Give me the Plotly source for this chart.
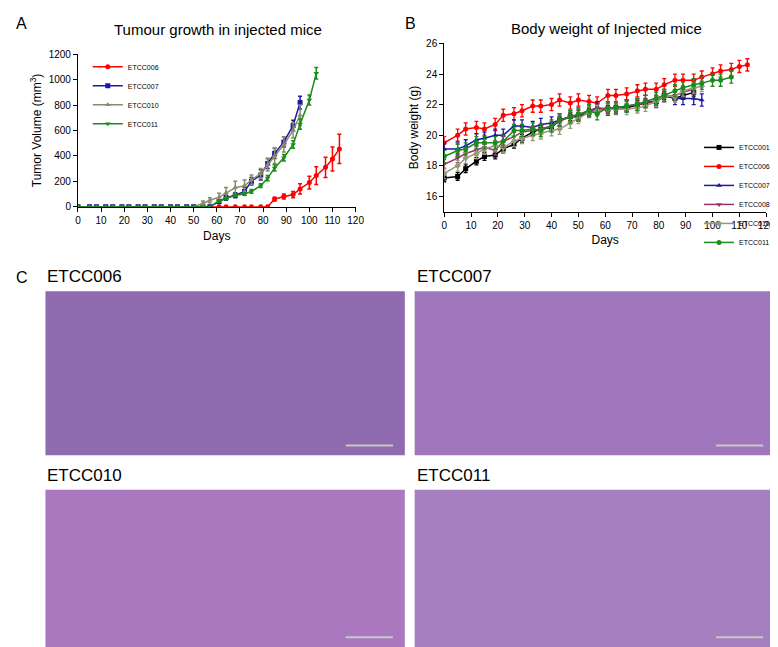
import plotly.graph_objects as go

# Panel A: tumour volume (mm3)
days_a = [0, 5, 8, 12, 15, 19, 22, 26, 29, 33, 36, 40, 43, 47, 50, 54, 57, 61, 64,
          68, 72, 75, 79, 82, 85, 89, 93, 96, 100, 103, 107, 110, 113]
vol_006 = [0] * 24 + [60, 80, 95, 140, 190, 245, 310, 375, 455]
err_006 = [0] * 24 + [15, 20, 25, 40, 50, 70, 80, 95, 115]
vol_007 = [0] * 17 + [40, 70, 90, 120, 200, 250, 340, 420, 510, 640, 820]
err_007 = [0] * 17 + [15, 20, 20, 30, 30, 40, 40, 40, 40, 40, 50]
vol_010 = [0] * 15 + [25, 50, 75, 110, 150, 165, 210, 260, 330, 400, 490, 600, 720]
err_010 = [0] * 15 + [20, 20, 30, 40, 50, 45, 40, 40, 50, 60, 60, 60, 80]
vol_011 = [0] * 17 + [45, 65, 90, 100, 120, 165, 225, 305, 385, 490, 650, 840, 1050]
err_011 = [0] * 17 + [10, 10, 10, 10, 15, 15, 20, 25, 25, 30, 40, 40, 45]

# Panel B: body weight (g)
days_b = [0, 5, 8, 12, 15, 19, 22, 26, 29, 33, 36, 40, 43, 47, 50, 54, 57, 61, 64,
          68, 72, 75, 79, 82, 86, 89, 93, 96, 100, 103, 107, 110, 113]
bw_001 = [17.2, 17.3, 17.8, 18.3, 18.6, 18.7, 19.1, 19.4, 19.8, 20.2, 20.4, 20.5, 21.0, 21.2,
          21.2, 21.5, 21.6, 21.7, 21.8, 21.8, 22.0, 22.1, 22.2, 22.6, 22.4, 22.6, 22.8]
bw_006 = [19.5, 20.0, 20.4, 20.5, 20.4, 20.7, 21.3, 21.4, 21.6, 21.9, 21.9, 22.0, 22.3, 22.1,
          22.3, 22.2, 22.1, 22.6, 22.6, 22.7, 22.9, 23.0, 23.0, 23.3, 23.6, 23.6, 23.6, 23.8,
          24.0, 24.2, 24.3, 24.5, 24.6]
bw_007 = [19.1, 19.1, 19.3, 19.7, 19.8, 20.0, 20.0, 20.6, 20.6, 20.5, 20.7, 20.8, 21.0, 21.2,
          21.3, 21.6, 21.8, 21.7, 21.8, 21.9, 22.0, 22.2, 22.2, 22.6, 22.4, 22.4, 22.4, 22.3]
bw_008 = [18.1, 18.5, 18.8, 19.0, 19.2, 19.0, 19.6, 19.9, 20.2, 20.3, 20.4, 20.6, 20.9, 21.2,
          21.3, 21.6, 21.7, 21.8, 21.8, 21.9, 22.0, 22.1, 22.2, 22.5, 22.6, 22.8, 23.0]
bw_010 = [17.5, 18.0, 18.5, 18.8, 19.1, 19.3, 19.2, 19.6, 19.8, 20.0, 20.1, 20.3, 20.4, 20.8,
          21.1, 21.5, 21.6, 21.7, 21.7, 21.7, 21.8, 21.9, 22.2, 22.6, 22.5, 22.9, 23.1, 23.2]
bw_011 = [18.6, 19.0, 19.1, 19.5, 19.5, 19.5, 19.6, 20.3, 20.3, 20.4, 20.3, 20.6, 21.0, 21.2,
          21.4, 21.6, 21.4, 21.8, 21.8, 21.9, 22.0, 22.2, 22.4, 22.6, 22.9, 23.1, 23.3, 23.4,
          23.6, 23.6, 23.8]
bw_err = {"ETCC001": 0.25, "ETCC006": 0.4, "ETCC007": 0.4, "ETCC008": 0.3, "ETCC010": 0.35, "ETCC011": 0.4}

histo_labels = ["ETCC006", "ETCC007", "ETCC010", "ETCC011"]
histo_colors = ["#8f6aae", "#a077bd", "#a978bf", "#a67fc0"]

FONT = "Liberation Sans, Arial"
W, H = 778, 647

fig = go.Figure()

series_a = [
    ("ETCC006", vol_006, err_006, "#ff0000", "circle"),
    ("ETCC007", vol_007, err_007, "#1a1aa6", "square"),
    ("ETCC010", vol_010, err_010, "#8b8a6a", "triangle-up"),
    ("ETCC011", vol_011, err_011, "#1a8c1a", "triangle-down"),
]
for name, y, e, c, sym in series_a:
    fig.add_trace(go.Scatter(
        x=days_a[:len(y)], y=y, name=name, mode="lines+markers",
        line=dict(color=c, width=1.5), marker=dict(color=c, symbol=sym, size=5),
        error_y=dict(type="data", array=e, color=c, thickness=1.5, width=2),
        xaxis="x", yaxis="y", legend="legend"))

series_b = [
    ("ETCC001", bw_001, "#000000", "square"),
    ("ETCC006", bw_006, "#ff0000", "circle"),
    ("ETCC007", bw_007, "#1a1aa6", "triangle-up"),
    ("ETCC008", bw_008, "#993366", "triangle-down"),
    ("ETCC010", bw_010, "#999977", "diamond"),
    ("ETCC011", bw_011, "#1a8c1a", "circle"),
]
for name, y, c, sym in series_b:
    fig.add_trace(go.Scatter(
        x=days_b[:len(y)], y=y, name=name, mode="lines+markers",
        line=dict(color=c, width=1.5), marker=dict(color=c, symbol=sym, size=5),
        error_y=dict(type="constant", value=bw_err[name], color=c, thickness=1.3, width=2),
        xaxis="x2", yaxis="y2", legend="legend2"))

axis_common = dict(showgrid=False, zeroline=False, showline=True, linecolor="black",
                   ticks="outside", ticklen=4, tickcolor="black",
                   tickfont=dict(size=10, family=FONT, color="black"))

# histology tiles
tiles = [(35, 283, 400, 450), (410, 283, 776, 450), (35, 485, 400, 645), (410, 485, 776, 645)]
shapes = []
annotations = []
for (x0, y0, x1, y1), lab, col in zip(tiles, histo_labels, histo_colors):
    shapes.append(dict(type="rect", xref="paper", yref="paper",
                       x0=x0 / W, x1=x1 / W, y0=1 - y1 / H, y1=1 - y0 / H,
                       fillcolor=col, line=dict(width=0), layer="below"))
    shapes.append(dict(type="line", xref="paper", yref="paper",
                       x0=(x1 - 60) / W, x1=(x1 - 12) / W, y0=1 - (y1 - 10) / H, y1=1 - (y1 - 10) / H,
                       line=dict(color="#c8c8c8", width=2)))
    annotations.append(dict(text=lab, x=x0 / W, y=1 - (y0 - 3) / H, xref="paper", yref="paper",
                            xanchor="left", yanchor="bottom", showarrow=False,
                            font=dict(size=17, family=FONT, color="black")))

for t, x, y in [("A", 3, 0), ("B", 398, 0), ("C", 3, 258)]:
    annotations.append(dict(text=t, x=x / W, y=1 - y / H, xref="paper", yref="paper",
                            xanchor="left", yanchor="top", showarrow=False,
                            font=dict(size=16, family=FONT, color="black")))
annotations.append(dict(text="Tumour growth in injected mice", x=210 / W, y=1 - 6 / H,
                        xref="paper", yref="paper", xanchor="center", yanchor="top", showarrow=False,
                        font=dict(size=15, family=FONT, color="black")))
annotations.append(dict(text="Body weight of Injected mice", x=605 / W, y=1 - 5 / H,
                        xref="paper", yref="paper", xanchor="center", yanchor="top", showarrow=False,
                        font=dict(size=15, family=FONT, color="black")))

fig.update_layout(
    width=W, height=H, margin=dict(l=0, r=0, t=0, b=0),
    paper_bgcolor="white", plot_bgcolor="white",
    font=dict(family=FONT, color="black"),
    xaxis=dict(axis_common, domain=[68 / W, 350 / W], range=[0, 120], dtick=10,
               title=dict(text="Days", font=dict(size=12), standoff=6), anchor="y"),
    yaxis=dict(axis_common, domain=[1 - 197 / H, 1 - 42 / H], range=[0, 1200], dtick=200,
               title=dict(text="Tumor Volume (mm<sup>3</sup>)", font=dict(size=12), standoff=4), anchor="x"),
    xaxis2=dict(axis_common, domain=[440 / W, 767 / W], range=[0, 120], dtick=10,
                title=dict(text="Days", font=dict(size=12), standoff=6), anchor="y2"),
    yaxis2=dict(axis_common, domain=[1 - 202 / H, 1 - 31 / H], range=[15, 26], tickvals=[16, 18, 20, 22, 24, 26],
                title=dict(text="Body weight (g)", font=dict(size=12), standoff=4), anchor="x2"),
    legend=dict(x=78 / W, y=1 - 40 / H, xanchor="left", yanchor="top", bgcolor="rgba(0,0,0,0)",
                font=dict(size=7, family=FONT), itemwidth=30, tracegroupgap=0),
    legend2=dict(x=776 / W, y=1 - 122 / H, xanchor="right", yanchor="top", bgcolor="rgba(0,0,0,0)",
                 font=dict(size=7, family=FONT), itemwidth=30, tracegroupgap=0),
    shapes=shapes, annotations=annotations,
)

fig.write_html("out.html")
